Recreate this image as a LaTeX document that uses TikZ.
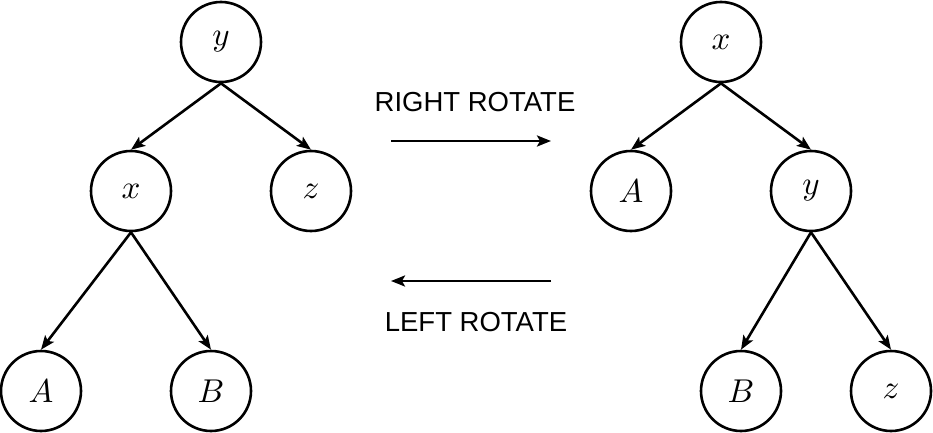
\documentclass[tikz,border=0pt]{standalone}
\usepackage{graphicx}
\usepackage{fontspec}
\setmainfont{Liberation Sans}
\usetikzlibrary{arrows.meta}
\newcommand{\treelet}[1]{\scalebox{3.3}{$#1$}}
\tikzset{
  tnode/.style={circle, draw=black, line width=2.6pt, minimum size=80pt, inner sep=0pt, font=\normalsize},
  edge/.style={line width=2.6pt, -{Stealth[length=14pt,width=11pt,inset=3pt]}},
  lbl/.style={font=\fontsize{27.5}{31}\selectfont, inner sep=0pt}
}
\begin{document}
\begin{tikzpicture}[x=1pt,y=-1pt]
\useasboundingbox (0,0) rectangle (933,433);
% left tree
\node[tnode] (ly) at (221,42) {\treelet{y}};
\node[tnode] (lx) at (131,191) {\treelet{x}};
\node[tnode] (lz) at (311,191) {\treelet{z}};
\node[tnode] (lA) at (41,391) {\treelet{A}};
\node[tnode] (lB) at (211,391) {\treelet{B}};
\draw[edge] (ly.south) -- (lx.north);
\draw[edge] (ly.south) -- (lz.north);
\draw[edge] (lx.south) -- (lA.north);
\draw[edge] (lx.south) -- (lB.north);
% right tree
\node[tnode] (rx) at (721,42) {\treelet{x}};
\node[tnode] (rA) at (631,191) {\treelet{A}};
\node[tnode] (ry) at (811,191) {\treelet{y}};
\node[tnode] (rB) at (741,391) {\treelet{B}};
\node[tnode] (rz) at (891,391) {\treelet{z}};
\draw[edge] (rx.south) -- (rA.north);
\draw[edge] (rx.south) -- (ry.north);
\draw[edge] (ry.south) -- (rB.north);
\draw[edge] (ry.south) -- (rz.north);
% rotate arrows
\coordinate (r1) at (391,141);
\coordinate (r2) at (551,141);
\coordinate (l1) at (551,281);
\coordinate (l2) at (391,281);
\draw[edge] (r1) -- (r2);
\draw[edge] (l1) -- (l2);
\node[lbl] (rt) at (475,102) {RIGHT ROTATE};
\node[lbl] (lt) at (476,322) {LEFT ROTATE};
\end{tikzpicture}
\end{document}
